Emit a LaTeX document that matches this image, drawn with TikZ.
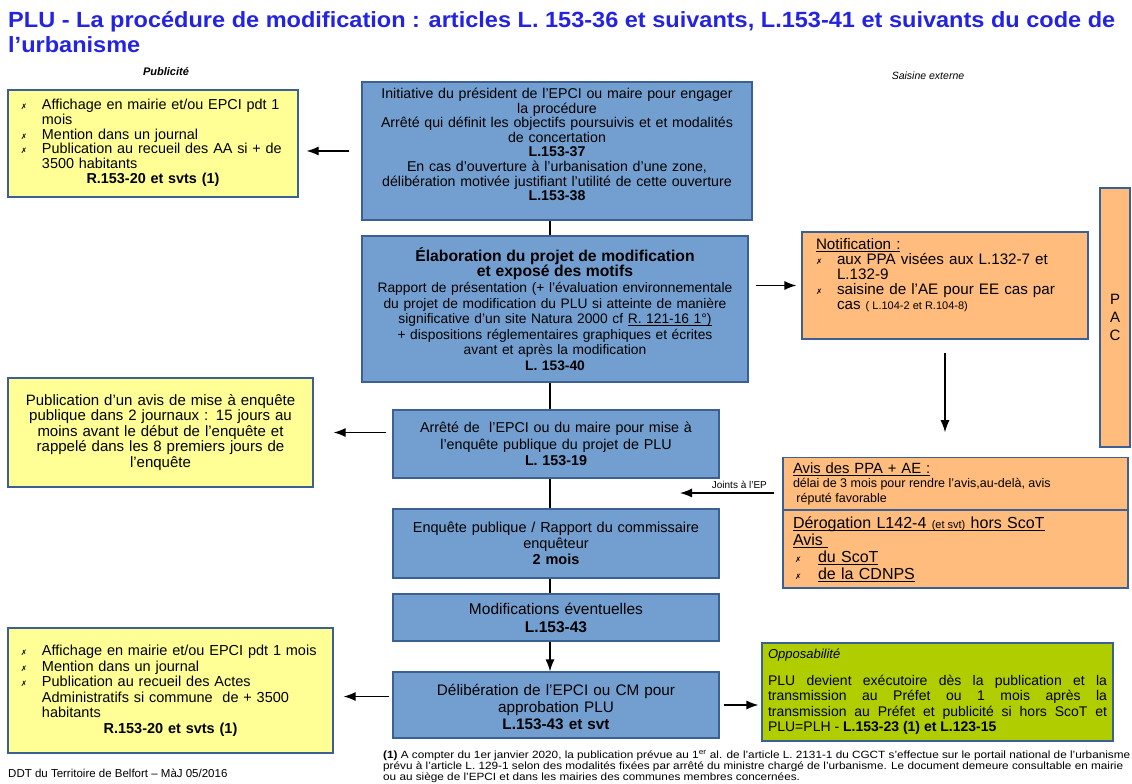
\documentclass[tikz,border=0pt]{standalone}
\usepackage{fontspec}
\usepackage{graphicx}
\setmainfont{Liberation Sans}
\newfontfamily\symfont{DejaVu Sans}
\usetikzlibrary{arrows.meta}
\definecolor{boxblue}{RGB}{114,159,207}
\definecolor{boxline}{RGB}{60,95,150}
\definecolor{pubyellow}{RGB}{255,255,150}
\definecolor{saisorange}{RGB}{255,188,125}
\definecolor{oppgreen}{RGB}{176,205,0}
\definecolor{titleblue}{RGB}{35,35,225}
\newcommand{\taille}[2]{\fontsize{#1}{#2}\selectfont\lineskiplimit=-20pt\spaceskip=0pt\xspaceskip=0pt}
\newcommand{\bul}{{\symfont\fontsize{7.5}{8}\selectfont ✗}}
\newcommand{\puce}[2][9pt]{\par\hangindent=30pt\hangafter=1\noindent\makebox[30pt][l]{\hspace{#1}\bul}#2\par}
\newcommand{\centre}[1]{\par{\centering #1\par}}
\newcommand{\remonte}[1]{\par\kern#1\hrule height0pt width0pt}
\newsavebox{\soulbox}
\newcommand{\souligne}[1]{\sbox{\soulbox}{#1}\rlap{\rule[-2pt]{\wd\soulbox}{0.8pt}}\usebox{\soulbox}}
\begin{document}
\begin{tikzpicture}[x=1pt,y=-1pt,
    ctr/.style={draw=boxline, line width=1.2pt, fill=boxblue, align=center, inner sep=3pt},
    pub/.style={draw=boxline, line width=1.2pt, fill=pubyellow, inner sep=4pt},
    sais/.style={draw=boxline, line width=1.2pt, fill=saisorange, inner sep=5pt},
    ligne/.style={line width=1.2pt},
    fleche/.style={line width=1.2pt, -{Latex[length=12pt,width=9pt]}}]
    \useasboundingbox (0,0) rectangle (1132,784);
    % titre
    \node[anchor=north west, inner sep=0pt, text=titleblue, font=\bfseries\fontsize{22}{25}\selectfont] (titre) at (8,10)
        {\resizebox{1107pt}{\height}{\begin{tabular}{@{}l@{}}PLU - La procédure de modification : articles L. 153-36 et suivants, L.153-41 et suivants du code de\\ l'urbanisme\end{tabular}}};
    \node[font=\bfseries\itshape\fontsize{11}{13}\selectfont] (publicite) at (166,72) {Publicité};
    \node[font=\itshape\fontsize{10.5}{12}\selectfont] (saisine) at (928,76) {Saisine externe};
    % colonne centrale
    \node[ctr, minimum width=390pt, minimum height=138pt, text width=384pt, font=\taille{14.2}{14.6}] (init) at (557,151)
        {Initiative du président de l'EPCI ou maire pour engager\\ la procédure\\ Arrêté qui définit les objectifs poursuivis et et modalités\\ de concertation\\ \textbf{L.153-37}\\ En cas d'ouverture à l'urbanisation d'une zone,\\ délibération motivée justifiant l'utilité de cette ouverture\\ \textbf{L.153-38}\remonte{13pt}};
    \node[ctr, minimum width=386pt, minimum height=146pt, text width=380pt, font=\taille{13.8}{15.6}] (elab) at (555,309)
        {{\bfseries\fontsize{15.7}{16.5}\selectfont Élaboration du projet de modification\\ et exposé des motifs}\\ Rapport de présentation (+ l'évaluation environnementale\\ du projet de modification du PLU si atteinte de manière\\ significative d'un site Natura 2000 cf \souligne{R. 121-16 1°)}\\ + dispositions réglementaires graphiques et écrites\\ avant et après la modification\\ \textbf{L. 153-40}};
    \node[ctr, minimum width=326pt, minimum height=68pt, text width=320pt, font=\taille{14.3}{16.5}] (arrete) at (556,444)
        {Arrêté de \ l'EPCI ou du maire pour mise à\\ l'enquête publique du projet de PLU\\ \textbf{L. 153-19}};
    \node[ctr, minimum width=326pt, minimum height=69pt, text width=320pt, font=\taille{14.5}{16}] (enquete) at (556,543.5)
        {Enquête publique / Rapport du commissaire\\ enquêteur\\ \textbf{2 mois}};
    \node[ctr, minimum width=326pt, minimum height=47pt, text width=320pt, font=\taille{15.5}{18}] (modif) at (556,617.5)
        {Modifications éventuelles\\ \textbf{L.153-43}};
    \node[ctr, minimum width=326pt, minimum height=66pt, text width=320pt, font=\taille{15.3}{17}] (delib) at (556,705)
        {Délibération de l'EPCI ou CM pour\\ approbation PLU\\ \textbf{L.153-43 et svt}\remonte{-4pt}};
    % publicite
    \node[pub, minimum width=290pt, minimum height=107pt, text width=282pt, align=left, font=\taille{14.4}{14.8}] (pub1) at (153,143.5)
        {\puce{Affichage en mairie et/ou EPCI pdt 1\newline mois}\puce{Mention dans un journal}\puce{Publication au recueil des AA si + de\newline 3500 habitants}\centre{\textbf{R.153-20 et svts (1)}}\remonte{6pt}};
    \node[pub, minimum width=305pt, minimum height=109pt, text width=297pt, align=center, font=\taille{15}{15.5}] (pub2) at (160.5,432.5)
        {Publication d'un avis de mise à enquête\\ publique dans 2 journaux : 15 jours au\\ moins avant le début de l'enquête et\\ rappelé dans les 8 premiers jours de\\ l'enquête};
    \node[pub, minimum width=325pt, minimum height=125pt, text width=317pt, align=left, font=\taille{14.5}{15.5}] (pub3) at (170.5,690.5)
        {\puce{Affichage en mairie et/ou EPCI pdt 1 mois}\puce{Mention dans un journal}\puce{Publication au recueil des Actes\newline Administratifs si commune \ de + 3500\newline habitants}\centre{\textbf{R.153-20 et svts (1)}}\remonte{5pt}};
    % saisine externe
    \node[sais, minimum width=286pt, minimum height=107pt, text width=276pt, align=left, font=\taille{15.2}{15}] (notif) at (945,285.5)
        {\hspace*{9pt}\souligne{Notification :}\puce{aux PPA visées aux L.132-7 et\newline L.132-9}\puce{saisine de l'AE pour EE cas par\newline cas {\taille{11}{12}( L.104-2 et R.104-8)}}\remonte{20pt}};
    \node[sais, minimum width=30pt, minimum height=259pt, text width=20pt, align=center, font=\taille{15}{18}] (pac) at (1115,317.5) {P\\A\\C};
    \node[sais, minimum width=345pt, minimum height=52pt, text width=335pt, align=left, font=\taille{14.8}{15}] (avisA) at (955.5,484)
        {\hspace*{5pt}\souligne{Avis des PPA + AE :}\\ {\taille{12.5}{14}\hspace*{5pt}délai de 3 mois pour rendre l'avis,au-delà, avis\\ \hspace*{5pt} réputé favorable}};
    \node[sais, minimum width=345pt, minimum height=78pt, text width=335pt, align=left, font=\taille{16}{17}] (avisB) at (955.5,549)
        {\hspace*{5pt}\souligne{Dérogation L142-4 {\taille{11}{12}(et svt)} hors ScoT}\newline \hspace*{5pt}\souligne{Avis\ }\puce[7pt]{\souligne{du ScoT}}\puce[7pt]{\souligne{de la CDNPS}}};
    \node[draw=boxline, line width=1.2pt, fill=oppgreen, inner sep=5pt, minimum width=351pt, minimum height=98pt, text width=339pt, align=justify, font=\taille{14}{15.5}] (oppos) at (937.5,692)
        {{\itshape\fontsize{13}{16}\selectfont Opposabilité}\par\vspace{11pt} PLU devient exécutoire dès la publication et la\linebreak transmission au Préfet ou 1 mois après la\linebreak transmission au Préfet et publicité si hors ScoT et\linebreak PLU=PLH - \textbf{L.153-23 (1) et L.123-15}};
    % pied de page
    \node[anchor=west, inner sep=0pt, font=\fontsize{11.5}{14}\selectfont] (ddt) at (8,773) {DDT du Territoire de Belfort -- MàJ 05/2016};
    \node[anchor=north west, inner sep=0pt, font=\fontsize{10.5}{11}\selectfont] (note) at (383,750)
        {\resizebox{747pt}{\height}{\begin{tabular}{@{}l@{}}\textbf{(1)} A compter du 1er janvier 2020, la publication prévue au 1\textsuperscript{er} al. de l'article L. 2131-1 du CGCT s'effectue sur le portail national de l'urbanisme\\ prévu à l'article L. 129-1 selon des modalités fixées par arrêté du ministre chargé de l'urbanisme. Le document demeure consultable en mairie\\ ou au siège de l'EPCI et dans les mairies des communes membres concernées.\end{tabular}}};
    % liaisons
    \coordinate (axe) at (550,0);
    \draw[ligne] (init.south -| axe) -- (elab.north -| axe);
    \draw[ligne] (elab.south -| axe) -- (arrete.north -| axe);
    \draw[ligne] (arrete.south -| axe) -- (enquete.north -| axe);
    \draw[ligne] (enquete.south -| axe) -- (modif.north -| axe);
    \draw[fleche] (modif.south -| axe) -- (delib.north -| axe);
    \draw[fleche, shorten <=12pt, shorten >=8pt] (init.west) -- (init.west -| pub1.east);
    \draw[fleche, shorten <=6pt, shorten >=20pt] (pub2.east -| arrete.west) -- (pub2.east);
    \draw[fleche, shorten <=3pt, shorten >=10pt] ([yshift=-6pt]pub3.east -| delib.west) -- ([yshift=-6pt]pub3.east);
    \draw[fleche, shorten <=4pt, shorten >=3pt] (delib.east) -- (delib.east -| oppos.west);
    \draw[fleche, shorten <=7pt, shorten >=5pt] (notif.west -| elab.east) -- (notif.west);
    \draw[fleche, shorten <=13pt, shorten >=25pt] (notif.south) -- (notif.south |- avisA.north);
    \coordinate (ep) at (680,493);
    \draw[fleche, shorten <=8pt] (ep -| avisA.west) -- (ep) node[pos=0.42, above, font=\fontsize{10}{12}\selectfont] {Joints à l'EP};
\end{tikzpicture}
\end{document}
